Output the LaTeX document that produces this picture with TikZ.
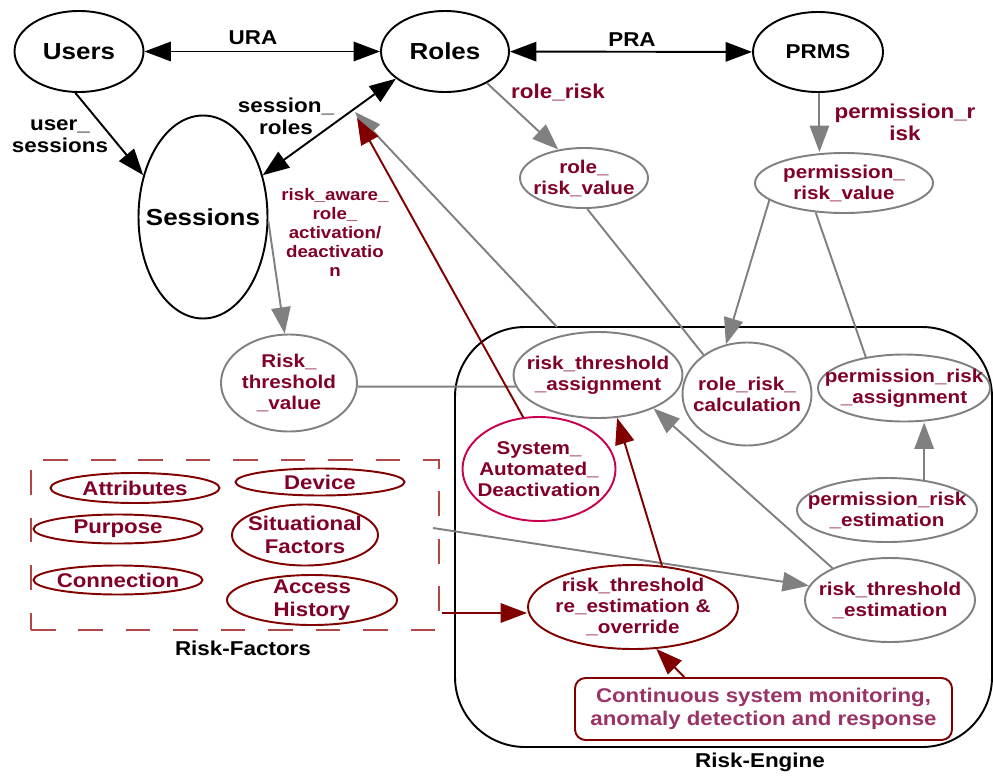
\documentclass[tikz,border=0pt]{standalone}
\usepackage{fontspec}
\setmainfont{Liberation Sans}[FakeStretch=1.12]
\usepackage{tikz}
\usetikzlibrary{arrows.meta,shapes.geometric,calc}

\definecolor{txtred}{RGB}{128,0,38}
\definecolor{linered}{RGB}{128,0,0}
\definecolor{arrgray}{RGB}{128,128,128}
\definecolor{sadred}{RGB}{200,0,80}
\definecolor{montxt}{RGB}{153,51,102}
\definecolor{dashred}{RGB}{176,72,72}

\newcommand{\rbacfont}{\fontsize{13.2}{15}\selectfont\bfseries}
\newcommand{\lblfont}{\fontsize{11.4}{12.6}\selectfont\bfseries}
\newcommand{\nodefont}{\fontsize{10.5}{12}\selectfont\bfseries}
\newcommand{\factfont}{\fontsize{11.3}{12.9}\selectfont\bfseries}
\newcommand{\notefont}{\fontsize{9.5}{10.8}\selectfont\bfseries}

\begin{document}
\begin{tikzpicture}[
    >={Triangle[length=15pt,width=11pt]},
    rbac/.style={ellipse,draw,line width=1.1pt,inner xsep=-20pt,inner ysep=-6pt,font=\rbacfont},
    gnode/.style={ellipse,draw=arrgray,line width=1.1pt,inner xsep=-20pt,inner ysep=-6pt,align=center,text=txtred,font=\nodefont},
    fnode/.style={ellipse,draw=linered,line width=1.1pt,inner xsep=-20pt,inner ysep=-6pt,align=center,text=txtred,font=\factfont},
    lbl/.style={align=center,font=\lblfont},
    rlbl/.style={lbl,text=txtred},
    blkarr/.style={line width=1.1pt},
    grayln/.style={line width=1.1pt,color=arrgray},
    redarr/.style={line width=1.1pt,color=linered}
  ]
    \useasboundingbox (0,0) rectangle (19.86,-15.5);

    % Boxes
    \node[draw,line width=1.1pt,rounded corners=1.4cm,minimum width=10.74cm,minimum height=8.4cm,inner sep=0pt] (engine) at (14.47,-10.74) {};
    \node[draw=dashred,line width=0.6pt,dash pattern=on 14pt off 13pt,minimum width=8.16cm,minimum height=3.4cm,inner sep=0pt] (factors) at (4.7,-10.9) {};
    \node[lbl] (enginelbl) at (15.2,-15.24) {Risk-Engine};
    \node[lbl] (factorslbl) at (4.86,-12.96) {Risk-Factors};

    % RBAC nodes
    \node[rbac,minimum width=2.58cm,minimum height=1.62cm] (users) at (1.58,-1.03) {Users};
    \node[rbac,minimum width=2.56cm,minimum height=1.62cm] (roles) at (8.9,-1.03) {Roles};
    \node[rbac,minimum width=2.6cm,minimum height=1.6cm,font=\lblfont] (prms) at (16.36,-1.04) {PRMS};
    \node[rbac,minimum width=2.58cm,minimum height=4.06cm] (sessions) at (4.06,-4.34) {Sessions};

    % Risk values
    \node[gnode,minimum width=2.56cm,minimum height=1.2cm] (rrv) at (11.68,-3.56) {role\_\\risk\_value};
    \node[gnode,minimum width=3.56cm,minimum height=1.2cm] (prv) at (16.88,-3.66) {permission\_\\risk\_value};
    \node[gnode,minimum width=2.72cm,minimum height=1.94cm] (rtv) at (5.78,-7.66) {Risk\_\\threshold\\\_value};

    % Risk engine nodes
    \node[gnode,minimum width=3.38cm,minimum height=1.72cm] (rta) at (11.96,-7.5) {risk\_threshold\\\_assignment};
    \node[gnode,minimum width=2.58cm,minimum height=2.06cm] (rrc) at (14.94,-7.88) {role\_risk\_\\calculation};
    \node[gnode,minimum width=3.44cm,minimum height=1.34cm] (pra) at (18.08,-7.76) {permission\_risk\\\_assignment};
    \node[gnode,draw=sadred,minimum width=3.06cm,minimum height=2.08cm] (sad) at (10.78,-9.38) {System\_\\Automated\_\\Deactivation};
    \node[gnode,minimum width=3.6cm,minimum height=1.28cm] (pre) at (17.74,-10.2) {permission\_risk\\\_estimation};
    \node[gnode,draw=linered,minimum width=4.2cm,minimum height=1.68cm] (reest) at (12.66,-12.14) {risk\_threshold\\re\_estimation \&\\\_override};
    \node[gnode,minimum width=3.4cm,minimum height=1.68cm] (rte) at (17.8,-12.0) {risk\_threshold\\\_estimation};
    \node[draw=linered,line width=1.1pt,rounded corners=6pt,minimum width=7.54cm,minimum height=1.24cm,inner sep=0pt,align=center,text=montxt,font=\factfont] (cmon) at (15.27,-14.18) {Continuous system monitoring,\\anomaly detection and response};

    % Risk factors
    \node[fnode,minimum width=3.38cm,minimum height=0.6cm] (attr) at (2.7,-9.76) {Attributes};
    \node[fnode,minimum width=3.38cm,minimum height=0.58cm] (purp) at (2.36,-10.58) {Purpose};
    \node[fnode,minimum width=3.38cm,minimum height=0.58cm] (conn) at (2.36,-11.6) {Connection};
    \node[fnode,minimum width=3.38cm,minimum height=0.54cm] (dev) at (6.4,-9.64) {Device};
    \node[fnode,minimum width=2.92cm,minimum height=1.22cm] (sit) at (6.1,-10.7) {Situational\\Factors};
    \node[fnode,minimum width=3.4cm,minimum height=1.0cm] (acc) at (6.24,-12.0) {Access\\History};

    % Free ends
    \coordinate (srgray) at (7.1,-2.24);
    \coordinate (srred) at (7.14,-2.36);
    \coordinate (engtop) at (11.14,-6.54);
    \coordinate (facright) at (8.66,-10.56);
    \coordinate (facout) at (8.84,-12.26);

    % RBAC relations
    \draw[blkarr,<->] (users) -- (roles);
    \draw[blkarr,<->] (roles) -- (prms);
    \draw[blkarr,->] (users.265) -- (sessions.145);
    \draw[blkarr,<->] (sessions.35) -- (roles.209);
    \node[lbl] (ura) at (5.06,-0.76) {URA};
    \node[lbl] (pralbl) at (12.64,-0.8) {PRA};
    \node[lbl] (usersess) at (1.2,-2.72) {user\_\\sessions};
    \node[lbl] (sessroles) at (5.72,-2.32) {session\_\\roles};

    % Risk flows
    \draw[grayln,->] (sessions.-4) -- (rtv.95);
    \draw[grayln,->] (roles.-37) -- (rrv.132);
    \draw[grayln,->] (prms.272) -- (prms.272 |- prv.north);
    \draw[grayln,->] (prv.193) -- (rrc.113);
    \draw[grayln] (prv.226) -- (pra.141);
    \draw[grayln] (rrv.-84) -- (rrc.138);
    \draw[grayln] (rtv.-3) -- (rta.188);
    \draw[grayln,->] (engtop) -- (srgray);
    \draw[grayln,->] (rte.151) -- (rta.-31.5);
    \draw[grayln,->] (pre.39) -- (pre.39 |- pra.south);
    \draw[grayln,->] (facright) -- (rte.170);
    \node[rlbl] (rolerisk) at (11.16,-1.84) {role\_risk};
    \node[rlbl] (permrisk) at (18.1,-2.44) {permission\_r\\isk};
    \node[rlbl,font=\notefont] (riskaware) at (6.7,-4.64) {risk\_aware\_\\role\_\\activation/\\deactivatio\\n};

    % Overrides
    \draw[redarr,->] (sad.107) -- (srred);
    \draw[redarr,->] (reest.55) -- (rta.-66);
    \draw[redarr,->] (facout) -- (facout -| reest.west);
    \draw[redarr,->] (cmon.158) -- (reest.-61);
\end{tikzpicture}
\end{document}
